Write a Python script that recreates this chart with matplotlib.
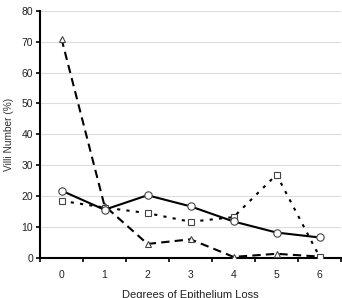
import numpy as np
import matplotlib.pyplot as plt
from matplotlib.ticker import FixedLocator

plt.rcParams['font.family'] = ['Liberation Sans', 'DejaVu Sans']

# data
degrees = [0, 1, 2, 3, 4, 5, 6]
circle_vals = [21.7, 15.5, 20.2, 16.6, 11.7, 8.1, 6.5]
square_vals = [18.4, 16.2, 14.4, 11.6, 13.1, 26.9, 0.3]
triangle_vals = [71.0, 16.8, 4.4, 5.9, 0.2, 1.2, 0.3]
y_ticks = [0, 10, 20, 30, 40, 50, 60, 70, 80]

fig = plt.figure(figsize=(3.42, 2.98), dpi=100)
ax = fig.add_axes([40/342, 1 - 257.5/298, 301/342, 246.5/298])

x = np.arange(len(degrees))
ax.plot(x, triangle_vals, color='black', lw=1.5, ls=(0, (4, 2.5)),
        marker='^', ms=5, mfc='white', mec='#444444', mew=0.8, zorder=3)
ax.plot(x, square_vals, color='black', lw=1.5, ls=(0, (1.5, 3)),
        marker='s', ms=5, mfc='white', mec='#444444', mew=0.8, zorder=3)
ax.plot(x, circle_vals, color='black', lw=1.5, ls='-',
        marker='o', ms=5.3, mfc='white', mec='#444444', mew=0.8, zorder=4)

ax.set_xlim(-0.5, len(degrees) - 0.5)
ax.set_ylim(0, 80)
ax.set_yticks(y_ticks)
ax.set_xticks(x)
ax.set_xticklabels([str(d) for d in degrees])
ax.xaxis.set_minor_locator(FixedLocator(np.arange(-0.5, len(degrees), 1.0)))
ax.tick_params(axis='x', which='major', length=0, pad=9, labelsize=7.5, colors='#222222')
ax.tick_params(axis='x', which='minor', length=3, width=1.2, direction='out')
ax.tick_params(axis='y', length=3, width=1.2, labelsize=7.5, pad=2, colors='black',
               labelcolor='#222222')

ax.grid(axis='y', color='#dddddd', lw=0.8, zorder=0)
ax.set_axisbelow(True)
for s in ['top', 'right']:
    ax.spines[s].set_visible(False)
ax.spines['left'].set_linewidth(1.5)
ax.spines['bottom'].set_linewidth(1.5)

ax.set_ylabel('Villi Number (%)', fontsize=7.3, color='#333333', labelpad=5)
ax.set_xlabel('Degrees of Epithelium Loss', fontsize=8, color='#222222', labelpad=7)

plt.savefig('out.png', dpi=100)
